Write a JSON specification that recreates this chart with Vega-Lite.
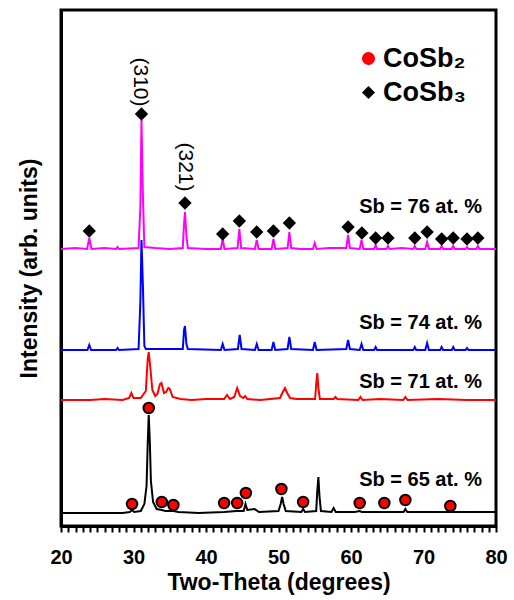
{
  "$schema": "https://vega.github.io/schema/vega-lite/v6.json",
  "width": 435,
  "height": 516,
  "autosize": "none",
  "padding": {"left": 61, "top": 10, "right": 18, "bottom": 74},
  "config": {
    "font": "Liberation Sans",
    "view": {"stroke": "black", "strokeWidth": 3}
  },
  "datasets": {
    "spec": [
      {"t":20,"i":277,"s":"76"},{"t":22,"i":278,"s":"76"},{"t":23.6,"i":277,"s":"76"},{"t":23.9,"i":288,"s":"76"},{"t":24.2,"i":277,"s":"76"},{"t":26,"i":278,"s":"76"},{"t":27.6,"i":277,"s":"76"},{"t":27.8,"i":279,"s":"76"},{"t":28.0,"i":277,"s":"76"},{"t":30.7,"i":278,"s":"76"},{"t":30.95,"i":320,"s":"76"},{"t":31.1,"i":406,"s":"76"},{"t":31.3,"i":330,"s":"76"},{"t":31.5,"i":279,"s":"76"},{"t":33,"i":278,"s":"76"},{"t":35,"i":277,"s":"76"},{"t":36.8,"i":278,"s":"76"},{"t":36.95,"i":300,"s":"76"},{"t":37.1,"i":314,"s":"76"},{"t":37.3,"i":290,"s":"76"},{"t":37.5,"i":278,"s":"76"},{"t":40,"i":277,"s":"76"},{"t":42.05,"i":277,"s":"76"},{"t":42.3,"i":287,"s":"76"},{"t":42.55,"i":277,"s":"76"},{"t":44.35,"i":278,"s":"76"},{"t":44.6,"i":297,"s":"76"},{"t":44.85,"i":278,"s":"76"},{"t":46.75,"i":277,"s":"76"},{"t":47.0,"i":286,"s":"76"},{"t":47.25,"i":277,"s":"76"},{"t":49.05,"i":277,"s":"76"},{"t":49.3,"i":287,"s":"76"},{"t":49.55,"i":277,"s":"76"},{"t":51.25,"i":278,"s":"76"},{"t":51.5,"i":294,"s":"76"},{"t":51.75,"i":278,"s":"76"},{"t":53,"i":277,"s":"76"},{"t":54.75,"i":277,"s":"76"},{"t":55.0,"i":283,"s":"76"},{"t":55.25,"i":277,"s":"76"},{"t":57,"i":278,"s":"76"},{"t":59.35,"i":278,"s":"76"},{"t":59.6,"i":291,"s":"76"},{"t":59.85,"i":278,"s":"76"},{"t":61.2,"i":277,"s":"76"},{"t":61.45,"i":286,"s":"76"},{"t":61.7,"i":277,"s":"76"},{"t":63.2,"i":277,"s":"76"},{"t":63.4,"i":281,"s":"76"},{"t":63.6,"i":277,"s":"76"},{"t":64.9,"i":277,"s":"76"},{"t":65.1,"i":280,"s":"76"},{"t":65.3,"i":277,"s":"76"},{"t":67,"i":278,"s":"76"},{"t":68.6,"i":277,"s":"76"},{"t":68.8,"i":280,"s":"76"},{"t":69.0,"i":277,"s":"76"},{"t":70.25,"i":277,"s":"76"},{"t":70.5,"i":284,"s":"76"},{"t":70.75,"i":277,"s":"76"},{"t":72.3,"i":277,"s":"76"},{"t":72.5,"i":280,"s":"76"},{"t":72.7,"i":277,"s":"76"},{"t":73.9,"i":277,"s":"76"},{"t":74.1,"i":280,"s":"76"},{"t":74.3,"i":277,"s":"76"},{"t":75.8,"i":277,"s":"76"},{"t":76.0,"i":279,"s":"76"},{"t":76.2,"i":277,"s":"76"},{"t":77.3,"i":277,"s":"76"},{"t":77.5,"i":280,"s":"76"},{"t":77.7,"i":277,"s":"76"},{"t":80,"i":277,"s":"76"},

      {"t":20,"i":176,"s":"74"},{"t":23.65,"i":176,"s":"74"},{"t":23.9,"i":181,"s":"74"},{"t":24.15,"i":176,"s":"74"},{"t":27.6,"i":176,"s":"74"},{"t":27.8,"i":178,"s":"74"},{"t":28.0,"i":176,"s":"74"},{"t":30.7,"i":177,"s":"74"},{"t":30.95,"i":225,"s":"74"},{"t":31.1,"i":286,"s":"74"},{"t":31.3,"i":240,"s":"74"},{"t":31.5,"i":180,"s":"74"},{"t":31.7,"i":177,"s":"74"},{"t":36.8,"i":177,"s":"74"},{"t":36.97,"i":196,"s":"74"},{"t":37.1,"i":200,"s":"74"},{"t":37.3,"i":182,"s":"74"},{"t":37.5,"i":177,"s":"74"},{"t":42.05,"i":176,"s":"74"},{"t":42.3,"i":182,"s":"74"},{"t":42.55,"i":176,"s":"74"},{"t":44.4,"i":177,"s":"74"},{"t":44.65,"i":191,"s":"74"},{"t":44.9,"i":177,"s":"74"},{"t":46.75,"i":176,"s":"74"},{"t":47.0,"i":182,"s":"74"},{"t":47.25,"i":176,"s":"74"},{"t":49.05,"i":176,"s":"74"},{"t":49.3,"i":184,"s":"74"},{"t":49.55,"i":176,"s":"74"},{"t":51.25,"i":177,"s":"74"},{"t":51.5,"i":189,"s":"74"},{"t":51.75,"i":177,"s":"74"},{"t":54.75,"i":176,"s":"74"},{"t":55.0,"i":184,"s":"74"},{"t":55.25,"i":176,"s":"74"},{"t":59.35,"i":177,"s":"74"},{"t":59.6,"i":186,"s":"74"},{"t":59.85,"i":177,"s":"74"},{"t":61.2,"i":176,"s":"74"},{"t":61.45,"i":182,"s":"74"},{"t":61.7,"i":176,"s":"74"},{"t":63.2,"i":176,"s":"74"},{"t":63.4,"i":179,"s":"74"},{"t":63.6,"i":176,"s":"74"},{"t":68.6,"i":176,"s":"74"},{"t":68.8,"i":179,"s":"74"},{"t":69.0,"i":176,"s":"74"},{"t":70.25,"i":176,"s":"74"},{"t":70.5,"i":183,"s":"74"},{"t":70.75,"i":176,"s":"74"},{"t":72.3,"i":176,"s":"74"},{"t":72.5,"i":179,"s":"74"},{"t":72.7,"i":176,"s":"74"},{"t":73.9,"i":176,"s":"74"},{"t":74.1,"i":179,"s":"74"},{"t":74.3,"i":176,"s":"74"},{"t":75.8,"i":176,"s":"74"},{"t":76.0,"i":178,"s":"74"},{"t":76.2,"i":176,"s":"74"},{"t":80,"i":176,"s":"74"},

      {"t":20,"i":126,"s":"71"},{"t":24,"i":126,"s":"71"},{"t":26,"i":127,"s":"71"},{"t":28.5,"i":126,"s":"71"},{"t":29.4,"i":128,"s":"71"},{"t":29.7,"i":133,"s":"71"},{"t":30.0,"i":128,"s":"71"},{"t":31.0,"i":128,"s":"71"},{"t":31.7,"i":135,"s":"71"},{"t":31.95,"i":166,"s":"71"},{"t":32.1,"i":174,"s":"71"},{"t":32.3,"i":160,"s":"71"},{"t":32.6,"i":136,"s":"71"},{"t":33.0,"i":130,"s":"71"},{"t":33.3,"i":132,"s":"71"},{"t":33.65,"i":142,"s":"71"},{"t":33.85,"i":143,"s":"71"},{"t":34.2,"i":133,"s":"71"},{"t":34.5,"i":134,"s":"71"},{"t":34.8,"i":138,"s":"71"},{"t":35.0,"i":137,"s":"71"},{"t":35.4,"i":129,"s":"71"},{"t":36.5,"i":127,"s":"71"},{"t":38,"i":126,"s":"71"},{"t":40,"i":127,"s":"71"},{"t":42.5,"i":127,"s":"71"},{"t":42.9,"i":131,"s":"71"},{"t":43.3,"i":127,"s":"71"},{"t":43.9,"i":129,"s":"71"},{"t":44.3,"i":138,"s":"71"},{"t":44.7,"i":130,"s":"71"},{"t":45.15,"i":128,"s":"71"},{"t":45.4,"i":130,"s":"71"},{"t":45.7,"i":127,"s":"71"},{"t":47.5,"i":126,"s":"71"},{"t":50.2,"i":128,"s":"71"},{"t":50.6,"i":134,"s":"71"},{"t":50.9,"i":138,"s":"71"},{"t":51.2,"i":133,"s":"71"},{"t":51.6,"i":128,"s":"71"},{"t":52.5,"i":127,"s":"71"},{"t":55.05,"i":127,"s":"71"},{"t":55.2,"i":142,"s":"71"},{"t":55.35,"i":153,"s":"71"},{"t":55.5,"i":138,"s":"71"},{"t":55.7,"i":127,"s":"71"},{"t":57.6,"i":127,"s":"71"},{"t":57.85,"i":129,"s":"71"},{"t":58.1,"i":127,"s":"71"},{"t":61.0,"i":126,"s":"71"},{"t":61.3,"i":129,"s":"71"},{"t":61.6,"i":126,"s":"71"},{"t":64,"i":127,"s":"71"},{"t":67.2,"i":126,"s":"71"},{"t":67.5,"i":129,"s":"71"},{"t":67.8,"i":126,"s":"71"},{"t":72,"i":127,"s":"71"},{"t":76,"i":126,"s":"71"},{"t":80,"i":126,"s":"71"},

      {"t":20,"i":13,"s":"65"},{"t":26,"i":13,"s":"65"},{"t":28.5,"i":13,"s":"65"},{"t":29.5,"i":14,"s":"65"},{"t":29.8,"i":16,"s":"65"},{"t":30.1,"i":14,"s":"65"},{"t":31.0,"i":15,"s":"65"},{"t":31.5,"i":22,"s":"65"},{"t":31.8,"i":40,"s":"65"},{"t":31.95,"i":80,"s":"65"},{"t":32.1,"i":111,"s":"65"},{"t":32.25,"i":85,"s":"65"},{"t":32.4,"i":45,"s":"65"},{"t":32.7,"i":24,"s":"65"},{"t":33.2,"i":17,"s":"65"},{"t":33.9,"i":16,"s":"65"},{"t":34.4,"i":15,"s":"65"},{"t":35.5,"i":15,"s":"65"},{"t":36.2,"i":14,"s":"65"},{"t":39,"i":13,"s":"65"},{"t":42.5,"i":14,"s":"65"},{"t":44.2,"i":15,"s":"65"},{"t":45.2,"i":15,"s":"65"},{"t":45.45,"i":22,"s":"65"},{"t":45.7,"i":16,"s":"65"},{"t":46.7,"i":17,"s":"65"},{"t":47.3,"i":14,"s":"65"},{"t":50.0,"i":15,"s":"65"},{"t":50.3,"i":22,"s":"65"},{"t":50.5,"i":29,"s":"65"},{"t":50.7,"i":22,"s":"65"},{"t":51.0,"i":15,"s":"65"},{"t":53.15,"i":14,"s":"65"},{"t":53.4,"i":17,"s":"65"},{"t":53.65,"i":14,"s":"65"},{"t":55.2,"i":15,"s":"65"},{"t":55.35,"i":35,"s":"65"},{"t":55.5,"i":49,"s":"65"},{"t":55.65,"i":30,"s":"65"},{"t":55.85,"i":15,"s":"65"},{"t":57.3,"i":14,"s":"65"},{"t":57.6,"i":18,"s":"65"},{"t":57.9,"i":14,"s":"65"},{"t":60.5,"i":14,"s":"65"},{"t":61.2,"i":15,"s":"65"},{"t":61.5,"i":14,"s":"65"},{"t":67.25,"i":14,"s":"65"},{"t":67.5,"i":17,"s":"65"},{"t":67.75,"i":14,"s":"65"},{"t":73.7,"i":14,"s":"65"},{"t":76,"i":14,"s":"65"},{"t":80,"i":14,"s":"65"}
    ],
    "marks": [
      {"t":29.8,"i":22,"p":"CoSb₂"},{"t":32.1,"i":118,"p":"CoSb₂"},{"t":33.9,"i":24,"p":"CoSb₂"},{"t":35.5,"i":21,"p":"CoSb₂"},{"t":42.5,"i":23,"p":"CoSb₂"},{"t":44.3,"i":23,"p":"CoSb₂"},{"t":45.5,"i":33,"p":"CoSb₂"},{"t":50.4,"i":37,"p":"CoSb₂"},{"t":53.4,"i":24,"p":"CoSb₂"},{"t":61.2,"i":23,"p":"CoSb₂"},{"t":64.6,"i":23,"p":"CoSb₂"},{"t":67.5,"i":26,"p":"CoSb₂"},{"t":73.7,"i":20,"p":"CoSb₂"},
      {"t":23.9,"i":295,"p":"CoSb₃"},{"t":31.1,"i":412,"p":"CoSb₃"},{"t":37.1,"i":323,"p":"CoSb₃"},{"t":42.3,"i":292,"p":"CoSb₃"},{"t":44.6,"i":305,"p":"CoSb₃"},{"t":47.0,"i":294,"p":"CoSb₃"},{"t":49.3,"i":295,"p":"CoSb₃"},{"t":51.5,"i":303,"p":"CoSb₃"},{"t":59.6,"i":299,"p":"CoSb₃"},{"t":61.5,"i":293,"p":"CoSb₃"},{"t":63.4,"i":288,"p":"CoSb₃"},{"t":65.1,"i":288,"p":"CoSb₃"},{"t":68.8,"i":288,"p":"CoSb₃"},{"t":70.5,"i":294,"p":"CoSb₃"},{"t":72.5,"i":287,"p":"CoSb₃"},{"t":74.1,"i":288,"p":"CoSb₃"},{"t":76.0,"i":287,"p":"CoSb₃"},{"t":77.5,"i":288,"p":"CoSb₃"}
    ],
    "labels": [
      {"t":78.07,"i":319,"txt":"Sb = 76 at. %"},
      {"t":78.07,"i":203,"txt":"Sb = 74 at. %"},
      {"t":78.07,"i":144,"txt":"Sb = 71 at. %"},
      {"t":78.07,"i":46,"txt":"Sb = 65 at. %"}
    ],
    "hkl": [
      {"t":30.9,"i":444,"txt":"(310)"},
      {"t":37.1,"i":359,"txt":"(321)"}
    ]
  },
  "layer": [
    {
      "data": {"name": "spec"},
      "mark": {"type": "line", "strokeWidth": 2, "interpolate": "linear"},
      "encoding": {
        "x": {"field": "t", "type": "quantitative",
          "scale": {"domain": [20, 80], "nice": false, "zero": false},
          "axis": {"tickCount": 60, "tickSize": 6, "tickWidth": 2, "tickColor": "black", "grid": false,
            "domainColor": "black", "domainWidth": 3,
            "labelExpr": "datum.value % 10 === 0 ? datum.label : ''",
            "labelOverlap": false, "labelFlush": false,
            "labelFontSize": 20, "labelFontWeight": "bold", "labelColor": "black", "labelPadding": 15,
            "title": "Two-Theta (degrees)", "titleFontSize": 23, "titleFontWeight": "bold", "titleColor": "black", "titlePadding": 4}},
        "y": {"field": "i", "type": "quantitative",
          "scale": {"domain": [0, 516], "nice": false, "zero": false},
          "axis": {"ticks": false, "labels": false, "grid": false, "domainColor": "black", "domainWidth": 3, "title": "Intensity (arb. units)", "titleFontSize": 23, "titleFontWeight": "bold", "titleColor": "black", "titlePadding": 20}},
        "color": {"field": "s", "type": "nominal", "scale": {"domain": ["65", "71", "74", "76"], "range": ["#000000", "#ff0000", "#0000ff", "#ff00ff"]}, "legend": null},
        "detail": {"field": "s"}
      }
    },
    {
      "data": {"name": "marks"},
      "mark": {"type": "point", "filled": true, "stroke": "black", "strokeWidth": 2, "size": 110, "opacity": 1},
      "encoding": {
        "x": {"field": "t", "type": "quantitative"},
        "y": {"field": "i", "type": "quantitative"},
        "shape": {"field": "p", "type": "nominal", "scale": {"domain": ["CoSb₂", "CoSb₃"], "range": ["circle", "diamond"]},
          "legend": {"orient": "none", "legendX": 294, "legendY": 35, "title": null, "labelFontSize": 27, "labelFontWeight": "bold", "labelColor": "black", "symbolSize": 170, "symbolStrokeColor": "black", "symbolStrokeWidth": 2, "rowPadding": 6, "labelOffset": 1}},
        "fill": {"field": "p", "type": "nominal", "scale": {"domain": ["CoSb₂", "CoSb₃"], "range": ["#ff0000", "#000000"]},
          "legend": {"orient": "none", "legendX": 294, "legendY": 35, "title": null, "labelFontSize": 27, "labelFontWeight": "bold", "labelColor": "black", "symbolSize": 170, "symbolStrokeColor": "black", "symbolStrokeWidth": 2, "rowPadding": 6, "labelOffset": 1}}
      }
    },
    {
      "data": {"name": "labels"},
      "mark": {"type": "text", "align": "right", "baseline": "middle", "fontSize": 20, "fontWeight": "bold", "color": "black"},
      "encoding": {
        "x": {"field": "t", "type": "quantitative"},
        "y": {"field": "i", "type": "quantitative"},
        "text": {"field": "txt"}
      }
    },
    {
      "data": {"name": "hkl"},
      "mark": {"type": "text", "align": "center", "baseline": "middle", "angle": 90, "fontSize": 21, "color": "black"},
      "encoding": {
        "x": {"field": "t", "type": "quantitative"},
        "y": {"field": "i", "type": "quantitative"},
        "text": {"field": "txt"}
      }
    }
  ]
}
